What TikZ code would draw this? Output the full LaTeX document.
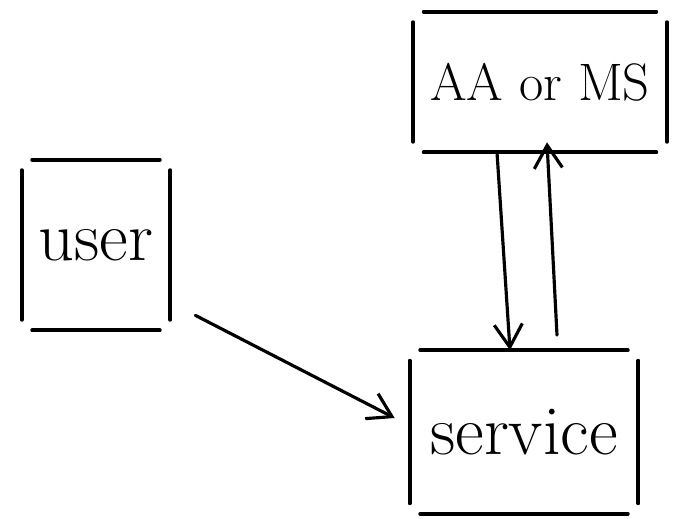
\documentclass[tikz,border=0pt]{standalone}
\usetikzlibrary{arrows.meta}
\usetikzlibrary{positioning}
\usetikzlibrary{calc}

% open-cornered box, drawn side by side
\newcommand{\openbox}[1]{%
	\draw[side] (#1.north west) -- (#1.north east);
	\draw[side] (#1.north east) -- (#1.south east);
	\draw[side] (#1.south east) -- (#1.south west);
	\draw[side] (#1.south west) -- (#1.north west);
}

\begin{document}
\begin{tikzpicture}
		\tikzset{block/.style = {shape=rectangle,draw=none,inner sep=0pt,font=\fontsize{40}{46}\selectfont}}
		\tikzset{side/.style = {line width=2.2pt,line cap=round,shorten <=6pt,shorten >=6pt}}
		\tikzset{edge/.style = {line width=1.8pt,line cap=round,-{Straight Barb[length=13pt,width=16pt,line width=1.8pt]}}}
		\useasboundingbox (0,0) rectangle (13.48,10.36);
		% blocks
		\node[block, minimum width=2.96cm, minimum height=3.4cm] (user) at (1.92,5.46) {user};
		\node[block, minimum width=5.06cm, minimum height=2.8cm, font=\fontsize{30}{36}\selectfont] (aa) at (10.8,8.72) {AA or MS};
		\node[block, minimum width=4.56cm, minimum height=3.26cm] (service) at (10.48,1.72) {service};
		
		\openbox{user}
		\openbox{aa}
		\openbox{service}
		
		%edges
		\draw[edge] ([shift={(0.5,0.3)}]user.south east) to ([shift={(-0.3,0.28)}]service.west);
		
		\draw[edge] ([xshift=-0.86cm]aa.south) to ([xshift=-0.28cm]service.north);
		
		\draw[edge] ([xshift=0.66cm,yshift=0.3cm]service.north) to ([xshift=0.14cm,yshift=0.2cm]aa.south);
		
		\end{tikzpicture}
\end{document}
